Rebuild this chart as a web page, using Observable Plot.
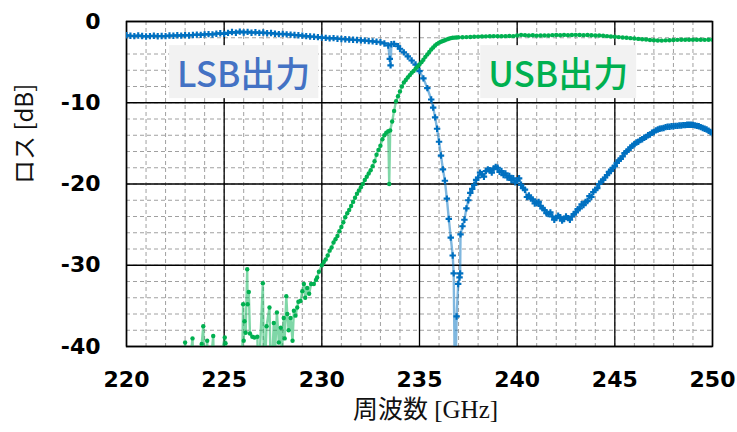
<!DOCTYPE html>
<html>
<head>
<meta charset="utf-8">
<script src="https://cdn.jsdelivr.net/npm/d3@7"></script>
<script src="https://cdn.jsdelivr.net/npm/@observablehq/plot@0.6"></script>
<style>
  html, body { margin: 0; padding: 0; background: #fff; }
  #chart { width: 737px; height: 432px; }
</style>
</head>
<body>
<div id="chart"></div>
<script>
// ---- Data (frequency GHz, loss dB) ----
const lsb = [
  [220.0,-1.70],[220.2,-1.75],[220.4,-1.80],[220.6,-1.72],[220.8,-1.78],[221.0,-1.85],
  [221.2,-1.80],[221.4,-1.76],[221.6,-1.82],[221.8,-1.78],[222.0,-1.80],[222.2,-1.72],
  [222.4,-1.75],[222.6,-1.70],[222.8,-1.74],[223.0,-1.68],[223.2,-1.72],[223.4,-1.66],
  [223.6,-1.62],[223.8,-1.65],[224.0,-1.58],[224.2,-1.55],[224.4,-1.60],[224.6,-1.50],
  [224.8,-1.45],[225.0,-1.52],[225.2,-1.40],[225.4,-1.30],[225.6,-1.38],[225.8,-1.25],
  [226.0,-1.35],[226.2,-1.28],[226.4,-1.38],[226.6,-1.32],[226.8,-1.40],[227.0,-1.36],
  [227.2,-1.45],[227.4,-1.42],[227.6,-1.50],[227.8,-1.55],[228.0,-1.52],[228.2,-1.58],
  [228.4,-1.62],[228.6,-1.66],[228.8,-1.70],[229.0,-1.74],[229.2,-1.80],[229.4,-1.85],
  [229.6,-1.88],[229.8,-1.92],[230.0,-1.98],[230.2,-2.02],[230.4,-2.08],[230.6,-2.05],
  [230.8,-2.12],[231.0,-2.15],[231.2,-2.18],[231.4,-2.22],[231.6,-2.25],[231.8,-2.28],
  [232.0,-2.32],[232.2,-2.35],[232.4,-2.40],[232.6,-2.45],[232.8,-2.50],[233.0,-2.55],
  [233.2,-2.70],[233.4,-2.95],[233.48,-4.6],[233.52,-5.4],[233.56,-2.8],[233.7,-2.75],
  [233.9,-3.05],[234.0,-3.35],[234.2,-3.8],[234.4,-4.3],[234.6,-4.8],[234.8,-5.3],
  [235.0,-6.1],[235.2,-7.0],[235.4,-8.2],[235.6,-9.6],[235.7,-10.6],[235.8,-11.8],
  [235.9,-13.2],[236.0,-14.8],[236.1,-16.5],[236.2,-18.2],[236.3,-19.6],[236.4,-21.8],
  [236.5,-24.3],[236.6,-26.6],[236.7,-28.8],[236.75,-31.0],[236.82,-46],[236.9,-36.3],
  [236.98,-32.3],[237.05,-31.5],[237.08,-31.0],[237.1,-26.2],[237.2,-25.2],[237.3,-24.4],
  [237.4,-23.0],[237.5,-22.0],[237.6,-21.1],[237.7,-20.6],[237.8,-20.1],[237.9,-19.5],
  [238.0,-19.2],[238.1,-18.6],[238.2,-18.8],[238.3,-19.1],[238.4,-18.4],[238.5,-18.2],
  [238.6,-18.3],[238.7,-18.6],[238.8,-18.1],[238.9,-17.9],[239.0,-18.0],[239.1,-18.5],
  [239.2,-18.4],[239.3,-18.9],[239.4,-18.7],[239.5,-19.2],[239.6,-19.0],[239.7,-19.5],
  [239.8,-19.3],[239.9,-19.8],[240.0,-19.6],[240.1,-19.3],[240.2,-20.1],[240.3,-20.5],
  [240.4,-20.7],[240.5,-21.6],[240.6,-21.4],[240.7,-21.8],[240.8,-21.9],[240.9,-22.4],
  [241.0,-22.3],[241.1,-22.2],[241.2,-22.7],[241.3,-23.0],[241.4,-23.2],[241.5,-23.6],
  [241.6,-23.7],[241.7,-23.5],[241.8,-24.0],[241.9,-24.4],[242.0,-24.2],[242.1,-23.9],
  [242.2,-24.1],[242.3,-24.5],[242.4,-24.3],[242.5,-24.0],[242.6,-24.2],[242.7,-24.4],
  [242.8,-24.0],[242.9,-23.7],[243.0,-23.5],[243.1,-23.1],[243.2,-23.0],[243.3,-22.5],
  [243.4,-22.6],[243.5,-22.2],[243.6,-22.1],[243.7,-21.5],[243.8,-21.6],[243.9,-21.0],
  [244.0,-20.7],[244.1,-20.5],[244.2,-20.0],[244.3,-19.7],[244.4,-19.5],[244.5,-19.2],
  [244.6,-18.9],[244.7,-18.5],[244.8,-18.4],[244.9,-18.0],[245.0,-17.8],[245.1,-17.4],
  [245.2,-17.1],[245.3,-16.9],[245.4,-16.6],[245.5,-16.2],[245.6,-16.0],[245.7,-15.8],
  [245.8,-15.5],[245.9,-15.3],[246.0,-15.1],[246.1,-14.9],[246.2,-14.8],[246.3,-14.6],
  [246.4,-14.5],[246.5,-14.3],[246.6,-14.2],[246.7,-14.0],[246.8,-13.9],[246.9,-13.7],
  [247.0,-13.6],[247.1,-13.4],[247.2,-13.3],[247.3,-13.2],[247.4,-13.15],[247.5,-13.1],
  [247.6,-13.0],[247.7,-12.95],[247.8,-12.95],[247.9,-12.9],[248.0,-12.9],[248.1,-12.85],
  [248.2,-12.85],[248.3,-12.8],[248.4,-12.8],[248.5,-12.75],[248.6,-12.75],[248.7,-12.7],
  [248.8,-12.7],[248.9,-12.7],[249.0,-12.72],[249.1,-12.78],[249.2,-12.85],[249.3,-12.9],
  [249.4,-13.0],[249.5,-13.1],[249.6,-13.2],[249.7,-13.3],[249.8,-13.45],[249.9,-13.6],
  [250.0,-13.75]
];

const usb = [
  [223.0,-39.5],[223.1,-45],[223.38,-39.0],[223.45,-45],[223.85,-39.7],[223.93,-37.5],
  [224.0,-45],[224.13,-39.3],[224.2,-45],[224.44,-38.7],[224.5,-45],[225.03,-38.9],
  [225.07,-39.6],[225.1,-45],[225.9,-45],[225.97,-34.8],[226.0,-39.3],[226.04,-36.9],
  [226.1,-38.3],[226.18,-30.5],[226.2,-34.8],[226.26,-33.3],[226.32,-38.4],[226.44,-38.8],
  [226.55,-38.9],[226.7,-38.8],[226.75,-45],[226.98,-32.2],[227.05,-45],[227.17,-37.5],
  [227.32,-35.2],[227.4,-45],[227.54,-37.1],[227.6,-41],[227.7,-35.8],[227.8,-39.5],
  [227.9,-37.7],[227.95,-41],[228.05,-36.5],[228.1,-39],[228.18,-33.8],[228.23,-36.0],
  [228.3,-38],[228.4,-36.5],[228.5,-39.3],[228.57,-35.6],[228.65,-36.2],[228.74,-35.2],
  [228.8,-34.5],[228.91,-34.4],[229.0,-33.2],[229.08,-32.3],[229.15,-34.0],[229.25,-32.8],
  [229.35,-33.5],[229.45,-32.3],[229.59,-32.3],[229.7,-31.8],[229.76,-31.5],[229.85,-30.8],
  [230.0,-30.0],[230.1,-29.6],[230.2,-29.3],[230.3,-28.8],[230.4,-28.2],[230.5,-27.8],
  [230.6,-27.2],[230.7,-26.8],[230.8,-26.4],[230.9,-25.8],[231.0,-25.3],[231.1,-24.7],
  [231.2,-24.1],[231.3,-23.6],[231.4,-23.2],[231.5,-22.7],[231.6,-22.2],[231.7,-21.7],
  [231.8,-21.2],[231.9,-20.8],[232.0,-20.4],[232.1,-20.0],[232.2,-19.5],[232.3,-19.1],
  [232.4,-18.7],[232.5,-18.3],[232.6,-17.8],[232.7,-17.2],[232.8,-16.4],[232.9,-15.8],
  [233.0,-15.3],[233.1,-14.5],[233.2,-14.0],[233.3,-13.7],[233.4,-13.5],[233.45,-20.0],
  [233.5,-13.4],[233.6,-12.3],[233.7,-11.0],[233.8,-9.8],[233.9,-9.2],[234.0,-8.6],
  [234.1,-8.0],[234.2,-7.5],[234.3,-7.2],[234.4,-6.9],[234.5,-6.6],[234.6,-6.3],
  [234.7,-6.1],[234.8,-5.8],[234.9,-5.55],[235.0,-5.3],[235.1,-5.0],[235.2,-4.7],
  [235.3,-4.35],[235.4,-4.05],[235.5,-3.75],[235.6,-3.45],[235.7,-3.2],[235.8,-2.95],
  [235.9,-2.75],[236.0,-2.6],[236.1,-2.5],[236.2,-2.4],[236.3,-2.3],[236.4,-2.2],
  [236.5,-2.12],[236.6,-2.05],[236.7,-2.0],[236.8,-1.98],[236.9,-1.96],[237.0,-1.95],
  [237.2,-1.93],[237.4,-1.92],[237.6,-1.90],[237.8,-1.88],[238.0,-1.86],[238.2,-1.85],
  [238.4,-1.83],[238.6,-1.82],[238.8,-1.80],[239.0,-1.80],[239.2,-1.82],[239.4,-1.80],
  [239.6,-1.78],[239.8,-1.80],[240.0,-1.72],[240.2,-1.65],[240.4,-1.68],[240.6,-1.72],
  [240.8,-1.70],[241.0,-1.74],[241.2,-1.72],[241.4,-1.73],[241.6,-1.72],[241.8,-1.68],
  [242.0,-1.66],[242.2,-1.70],[242.4,-1.65],[242.6,-1.68],[242.8,-1.66],[243.0,-1.64],
  [243.2,-1.66],[243.4,-1.68],[243.6,-1.66],[243.8,-1.70],[244.0,-1.72],[244.2,-1.73],
  [244.4,-1.75],[244.6,-1.80],[244.8,-1.84],[245.0,-1.88],[245.2,-1.92],[245.4,-1.96],
  [245.6,-2.00],[245.8,-2.05],[246.0,-2.10],[246.2,-2.14],[246.4,-2.18],[246.6,-2.22],
  [246.8,-2.28],[247.0,-2.30],[247.2,-2.33],[247.4,-2.35],[247.6,-2.32],[247.8,-2.30],
  [248.0,-2.28],[248.2,-2.26],[248.4,-2.25],[248.6,-2.24],[248.8,-2.24],[249.0,-2.25],
  [249.2,-2.24],[249.4,-2.25],[249.6,-2.26],[249.8,-2.25],[250.0,-2.25]
];

const xTicks = [220, 225, 230, 235, 240, 245, 250];
const yTicks = [0, -10, -20, -30, -40];
const xMinor = d3.range(220, 251, 1);
const yMinor = d3.range(-40, 1, 2);

const seriesLabels = [
  {text: "LSB出力", x: 226, y: -6.7, color: "#4472C4"},
  {text: "USB出力", x: 242.1, y: -6.7, color: "#00B050"}
];
const xTitle = "周波数 [GHz]";
const yTitle = "ロス [dB]";

const LSB_COLOR = "#0070C0";
const USB_COLOR = "#00B050";

const chart = Plot.plot({
  width: 737,
  height: 432,
  marginLeft: 126,
  marginRight: 25,
  marginTop: 21,
  marginBottom: 86,
  style: {background: "#fff", overflow: "visible"},
  x: {domain: [220, 250]},
  y: {domain: [-40, 0]},
  marks: [
    Plot.gridX(xMinor, {stroke: "#a0a0a0", strokeOpacity: 1, strokeDasharray: "4,3"}),
    Plot.gridY(yMinor, {stroke: "#a0a0a0", strokeOpacity: 1, strokeDasharray: "4,3"}),
    Plot.gridX(xTicks, {stroke: "#000", strokeOpacity: 1, strokeWidth: 1.3}),
    Plot.gridY(yTicks, {stroke: "#000", strokeOpacity: 1, strokeWidth: 1.3}),
    Plot.frame({stroke: "#000", strokeWidth: 1.5}),
    Plot.text(seriesLabels, {
      x: "x", y: "y", text: "text", fill: "color",
      fontSize: 35, fontFamily: "'Noto Sans CJK JP', sans-serif", fontWeight: 500,
      className: "series-label"
    }),
    Plot.line(lsb, {x: d => d[0], y: d => d[1], stroke: LSB_COLOR, strokeOpacity: 0.5, strokeWidth: 2.4, clip: true}),
    Plot.dot(lsb, {x: d => d[0], y: d => d[1], symbol: "cross", r: 2.7, fill: LSB_COLOR, stroke: "none", clip: true}),
    Plot.line(usb, {x: d => d[0], y: d => d[1], stroke: USB_COLOR, strokeOpacity: 0.5, strokeWidth: 2.4, clip: true}),
    Plot.dot(usb, {x: d => d[0], y: d => d[1], r: 2.2, fill: USB_COLOR, stroke: "none", clip: true}),
    Plot.axisX(xTicks, {
      tickSize: 0, tickPadding: 25, label: null,
      fontSize: 22, fontWeight: "bold", fontFamily: "'DejaVu Sans', sans-serif", fill: "#000"
    }),
    Plot.axisY(yTicks, {
      tickSize: 0, tickPadding: 26, label: null, tickFormat: d => String(d),
      fontSize: 22, fontWeight: "bold", fontFamily: "'DejaVu Sans', sans-serif", fill: "#000"
    }),
    Plot.text([xTitle], {
      frameAnchor: "bottom", dy: 71, dx: 6, text: d => d,
      fontSize: 25, fontFamily: "'Liberation Serif', 'Noto Sans CJK JP', serif", fill: "#111"
    }),
    Plot.text([yTitle], {
      frameAnchor: "left", dx: -101, rotate: -90, text: d => d,
      fontSize: 24, fontFamily: "'Noto Sans CJK JP', sans-serif", fill: "#111"
    })
  ]
});

document.getElementById("chart").appendChild(chart);

// light gray background boxes behind the series labels
const svg = d3.select(chart);
svg.selectAll("g.series-label text, .series-label text").each(function () {
  const b = this.getBBox();
  const padX = 8;
  d3.select(this.parentNode)
    .insert("rect", () => this)
    .attr("x", b.x - padX)
    .attr("y", b.y - 1)
    .attr("width", b.width + 2 * padX)
    .attr("height", b.height + 2)
    .attr("fill", "#f2f2f2")
    .attr("transform", this.getAttribute("transform"));
});
</script>
</body>
</html>
